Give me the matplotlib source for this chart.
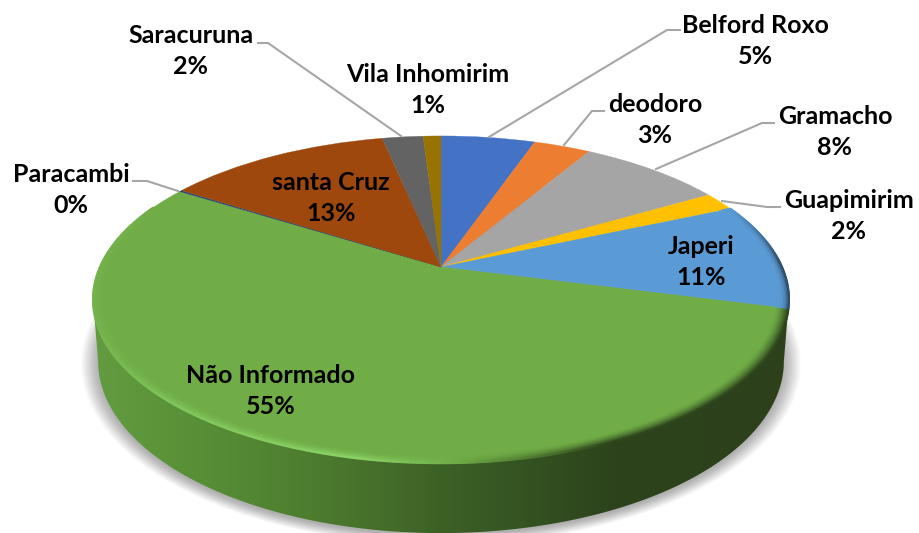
import numpy as np
import matplotlib
matplotlib.use("Agg")
import matplotlib.pyplot as plt
from matplotlib.transforms import Transform
from matplotlib.patches import Polygon
from matplotlib.collections import LineCollection
from matplotlib.colors import LinearSegmentedColormap, to_rgb

categories = ["Belford Roxo", "deodoro", "Gramacho", "Guapimirim", "Japeri",
              "Não Informado", "Paracambi", "santa Cruz", "Saracuruna", "Vila Inhomirim"]
shares = [5.3, 3.2, 8.1, 1.85, 10.6, 54.9, 0.15, 12.65, 2.3, 1.0]
percent_labels = ["5%", "3%", "8%", "2%", "11%", "55%", "0%", "13%", "2%", "1%"]
colors = ["#4472C4", "#ED7D31", "#A5A5A5", "#FFC000", "#5B9BD5",
          "#70AD47", "#264478", "#9E480E", "#636363", "#997300"]

label_centers = {
    "Belford Roxo": (755, 41), "deodoro": (655, 120), "Gramacho": (835, 132),
    "Guapimirim": (849, 216), "Japeri": (701, 262), "Não Informado": (271, 391),
    "Paracambi": (71, 190), "santa Cruz": (331, 198), "Saracuruna": (191, 51),
    "Vila Inhomirim": (428, 90),
}
leaders = [
    [(489, 137), (667, 30), (680, 30)],
    [(564, 145), (592, 111), (604, 111)],
    [(656, 169), (762, 123), (774, 123)],
    [(722, 201), (767, 207), (780, 207)],
    [(178, 191), (147, 181), (133, 181)],
    [(401, 136), (268, 43), (258, 43)],
]


class Tilt(Transform):
    """Perspective view of the unit disc, in picture pixels."""
    input_dims = output_dims = 2
    is_separable = False
    has_inverse = False

    def __init__(self, cx, cy, rx, ry, q):
        super().__init__()
        self.cx, self.cy, self.rx, self.ry, self.q = cx, cy, rx, ry, q

    def transform_non_affine(self, xy):
        xy = np.asarray(xy, float)
        w = 1 + self.q * xy[:, 1]
        return np.column_stack([self.cx + self.rx * xy[:, 0] / w,
                                (self.cy - self.ry * xy[:, 1]) / w])


def unit(theta_deg, r=1.0):
    t = np.radians(theta_deg)
    return np.column_stack([r * np.sin(t), r * np.cos(t)])


Q = 0.199
top = Tilt(441, 267, 341, 104, Q)
bottom = Tilt(441, 327, 336, 100, Q)

plt.rcParams["font.family"] = ["Lato", "DejaVu Sans"]
fig = plt.figure(figsize=(9.19, 5.33), dpi=100)
ax = fig.add_axes([0, 0, 1, 1])

wedges, _ = ax.pie(shares, colors=colors, startangle=90, counterclock=False,
                   wedgeprops={"linewidth": 0.25, "zorder": 5})
for w, c in zip(wedges, colors):
    w.set_transform(top + ax.transData)
    w.set_edgecolor(c)
ax.set_aspect("auto")
ax.set_xlim(0, 919)
ax.set_ylim(533, 0)
ax.axis("off")

edges = np.cumsum([0] + shares) / sum(shares) * 360
green_start, green_end = edges[5], edges[6]

# soft shadow under the disc
vis = np.degrees(np.arcsin(Q))
th_all = np.linspace(0, 360, 361)
base = bottom.transform(unit(th_all))
centre = base.mean(axis=0)
for grow in np.linspace(17, 0, 17):
    scale = 1 + grow / 342
    pts = centre + (base - centre) * scale + np.array([0, 2])
    ax.add_patch(Polygon(pts, closed=True, fc="#000000", ec="none", alpha=0.02, zorder=1))

# side wall
th_wall = np.linspace(90 + vis, 270 - vis, 300)
wall_pts = np.vstack([top.transform(unit(th_wall)), bottom.transform(unit(th_wall[::-1]))])
wall_stops = [(0.0, "#639C40"), (0.16, "#578E36"), (0.31, "#4D7D2F"), (0.42, "#456D2A"),
              (0.50, "#3C6126"), (0.62, "#345321"), (0.75, "#2D431C"), (1.0, "#2C411B")]
wall_cmap = LinearSegmentedColormap.from_list("wall", wall_stops)
grad = np.linspace(0, 1, 512)[None, :]
im = ax.imshow(grad, cmap=wall_cmap, extent=(93, 789, 540, 290), aspect="auto", zorder=2)
ax.set_xlim(0, 919)
ax.set_ylim(533, 0)
clip = Polygon(wall_pts, closed=True, transform=ax.transData, fc="none", ec="none")
ax.add_patch(clip)
im.set_clip_path(clip)

# bevelled rim of the top face
face = np.array(to_rgb(colors[5]))
light = np.array(to_rgb("#8AD266"))
dark = np.array(to_rgb("#2F471D"))


def rim_target(x):
    """Rim colour by horizontal position on the picture."""
    f = (x - 93) / 696
    if f < 0.38:
        return face + (light - face) * np.interp(f, [0, 0.12, 0.38], [0.2, 0.65, 1.0])
    if f < 0.52:
        return light + (face - light) * (f - 0.38) / 0.14
    return face + (dark - face) * np.clip((f - 0.52) / 0.22, 0, 1)


th_start = edges[4]
th_end = green_end - 8
th_rim = np.linspace(th_start, th_end, 420)
radii = np.linspace(0.968, 1.0, 9)
for k, r in enumerate(radii):
    pts = top.transform(unit(th_rim, r))
    segs = np.stack([pts[:-1], pts[1:]], axis=1)
    t = (k + 1) / len(radii)
    cols = []
    for th, s in zip(th_rim[:-1], segs):
        x = s[0, 0]
        idx = min(np.searchsorted(edges, th, side="right") - 1, 9)
        c0 = np.array(to_rgb(colors[idx]))
        target = rim_target(x) if idx == 5 else c0 * 0.5
        amount = t ** 1.6 if x > 441 else t ** 2
        if idx == 5 and th > 258:
            amount *= np.clip((th_end - th) / (th_end - 258), 0, 1)
        if idx != 5:
            amount *= np.clip((th - th_start) / 22, 0, 1) * t ** 2
        cols.append(c0 + (target - c0) * amount)
    ax.add_collection(LineCollection(segs, colors=cols, linewidths=1.5, capstyle="round", zorder=6))

for pts in leaders:
    xs, ys = zip(*pts)
    ax.plot(xs, ys, color="#A6A6A6", lw=1.5, zorder=7, solid_joinstyle="round")

for name, pct in zip(categories, percent_labels):
    x, y = label_centers[name]
    ax.text(x, y, f"{name}\n{pct}", ha="center", va="center", fontsize=18,
            fontweight="bold", color="black", linespacing=1.42, zorder=8)

fig.savefig("out.png", dpi=100)
